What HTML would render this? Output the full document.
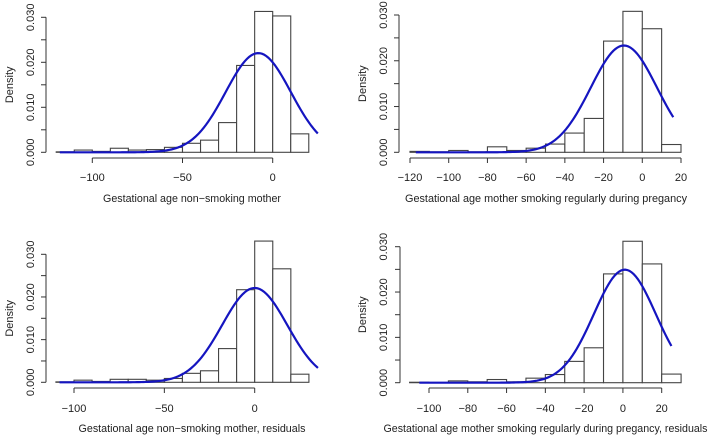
<!DOCTYPE html>
<html><head><meta charset="utf-8"><style>
body{margin:0;background:#fff;}
svg{display:block;font-family:"Liberation Sans",sans-serif;}
text{fill:#222;}
</style></head><body>
<svg id="c" width="710" height="435"></svg>
<script>
// Panel 1 data
const bins1 = [-120,-110,-100,-90,-80,-70,-60,-50,-40,-30,-20,-10,0,10,20];
const dens1 = [0.0001,0.0005,0.0002,0.0009,0.0005,0.0006,0.0011,0.002,0.0027,0.0066,0.0193,0.0313,0.0303,0.0041];
const fit1 = {mean:-8, sd:18.1, from:-118, to:25};
const xticks1 = [-100,-50,0];
// Panel 2 data
const bins2 = [-120,-110,-100,-90,-80,-70,-60,-50,-40,-30,-20,-10,0,10,20];
const dens2 = [0.0002,0.0001,0.0004,0.0001,0.0012,0.0004,0.0009,0.0018,0.0042,0.0074,0.0243,0.0308,0.027,0.0017];
const fit2 = {mean:-9.5, sd:17.1, from:-117, to:16};
const xticks2 = [-120,-100,-80,-60,-40,-20,0,20];
// Panel 3 data
const bins3 = [-110,-100,-90,-80,-70,-60,-50,-40,-30,-20,-10,0,10,20,30];
const dens3 = [0.0001,0.0005,0.0002,0.0007,0.0007,0.0005,0.0009,0.0021,0.0027,0.0079,0.0217,0.0331,0.0266,0.0019];
const fit3 = {mean:0, sd:18.05, from:-108, to:35};
const xticks3 = [-100,-50,0];
// Panel 4 data
const bins4 = [-110,-100,-90,-80,-70,-60,-50,-40,-30,-20,-10,0,10,20,30];
const dens4 = [0.0001,0,0.0004,0.0002,0.0007,0.0002,0.001,0.0018,0.0047,0.0077,0.024,0.0312,0.0262,0.0019];
const fit4 = {mean:1, sd:16.0, from:-105, to:25};
const xticks4 = [-100,-80,-60,-40,-20,0,20];
const yticks = [0,0.005,0.01,0.015,0.02,0.025,0.03];
const ylabels = ["0.000","","0.010","","0.020","","0.030"];
const titles = ["Gestational age non\u2212smoking mother","Gestational age  mother smoking regularly during pregancy","Gestational age non\u2212smoking mother, residuals","Gestational age mother smoking regularly during pregancy, residuals"];

const NS="http://www.w3.org/2000/svg";
const svg=document.getElementById('c');
function mk(tag,attrs,parent){const e=document.createElementNS(NS,tag);for(const k in attrs)e.setAttribute(k,attrs[k]);(parent||svg).appendChild(e);return e;}

const layouts=[
 {ax:46, y0:152.3, y30:17.3, xa:-100, pa:92.3, xb:0, pb:272.7, axisY:158, lblY:181, titleY:202, densX:9, ylabX:30, titleX:192, titleW:178},
 {ax:399, y0:152.3, y30:15, xa:-120, pa:410, xb:20, pb:681, axisY:158, lblY:181, titleY:202, densX:362, ylabX:383, titleX:546, titleW:282},
 {ax:46, y0:382.3, y30:254.3, xa:-100, pa:74, xb:0, pb:254.7, axisY:388, lblY:412, titleY:432, densX:9, ylabX:30, titleX:192, titleW:227},
 {ax:400, y0:382.7, y30:246.7, xa:-100, pa:429, xb:20, pb:661.7, axisY:388, lblY:412, titleY:432, densX:362, ylabX:383, titleX:545.5, titleW:324}
];
const panels=[[bins1,dens1,fit1,xticks1],[bins2,dens2,fit2,xticks2],[bins3,dens3,fit3,xticks3],[bins4,dens4,fit4,xticks4]];

panels.forEach((p,i)=>{
 const [bins,dens,fit,xt]=p; const L=layouts[i];
 const g=mk('g',{});
 
 
 const X=v=>L.pa+(v-L.xa)*(L.pb-L.pa)/(L.xb-L.xa);
 const Y=v=>L.y0+(L.y30-L.y0)*v/0.03;
 dens.forEach((d,j)=>{
  const r=mk('rect',{x:X(bins[j]),y:Y(d),width:X(bins[j+1])-X(bins[j]),height:Y(0)-Y(d),fill:'#fff',stroke:'#444','stroke-width':1.1},g);
  
  
 });
 let pts=[];
 for(let k=0;k<=120;k++){const x=fit.from+(fit.to-fit.from)*k/120;const y=Math.exp(-((x-fit.mean)**2)/(2*fit.sd*fit.sd))/(fit.sd*Math.sqrt(2*Math.PI));pts.push(X(x).toFixed(2)+','+Y(y).toFixed(2));}
 const pl=mk('polyline',{points:pts.join(' '),fill:'none',stroke:'#1515c0','stroke-width':2.2},g);
 
 
 const ya=mk('g',{},g);
 
 
 mk('line',{x1:L.ax,x2:L.ax,y1:Y(0),y2:Y(0.03),stroke:'#333','stroke-width':1},ya);
 yticks.forEach((t,j)=>{
  mk('line',{x1:L.ax-5,x2:L.ax,y1:Y(t),y2:Y(t),stroke:'#333','stroke-width':1},ya);
  if(ylabels[j]){const tx=mk('text',{x:L.ylabX,y:Y(t),'font-size':11,'text-anchor':'middle',transform:`rotate(-90 ${L.ylabX} ${Y(t)})`,dy:'0.35em'},ya);tx.textContent=ylabels[j];}
 });
 const dn=mk('text',{x:L.densX,y:(Y(0)+Y(0.03))/2,'font-size':11,'text-anchor':'middle',transform:`rotate(-90 ${L.densX} ${(Y(0)+Y(0.03))/2})`,dy:'0.35em'},g);
 dn.textContent='Density';
 
 
 const xa=mk('g',{},g);
 
 
 mk('line',{x1:X(xt[0]),x2:X(xt[xt.length-1]),y1:L.axisY,y2:L.axisY,stroke:'#333','stroke-width':1},xa);
 xt.forEach(t=>{
  mk('line',{x1:X(t),x2:X(t),y1:L.axisY,y2:L.axisY+5,stroke:'#333','stroke-width':1},xa);
  const tx=mk('text',{x:X(t),y:L.lblY,'font-size':11,'text-anchor':'middle'},xa);
  tx.textContent=t<0?'\u2212'+(-t):String(t);
 });
 const tt=mk('text',{x:L.titleX-L.titleW/2,y:L.titleY,'font-size':11,textLength:L.titleW,lengthAdjust:'spacingAndGlyphs'},g);
 tt.textContent=titles[i];
 
 
});
</script>
</body></html>
